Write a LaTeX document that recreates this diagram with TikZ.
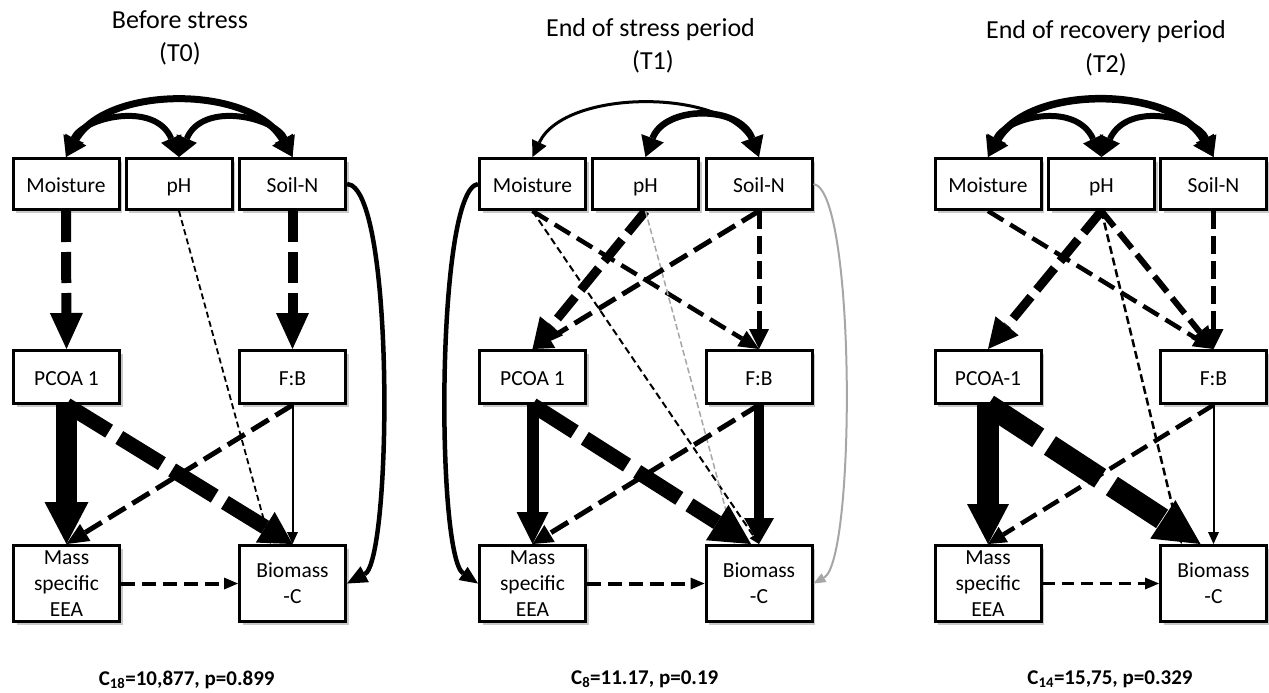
\documentclass[tikz,border=0pt]{standalone}
\usepackage{fontspec}
\setmainfont{Carlito}
\usetikzlibrary{arrows.meta,shadows,calc}
\begin{document}
\begin{tikzpicture}[x=1pt,y=-1pt,
 bbox/.style={draw, line width=3pt, fill=white, minimum width=106pt, inner sep=0pt, align=center, font=\fontsize{21.5}{26}\selectfont, drop shadow={shadow xshift=3pt, shadow yshift=-3.5pt, opacity=0.3, fill=black!70}},
 box/.style={bbox, minimum height=51pt, text height=17pt, text depth=0.5pt},
 midbox/.style={box, minimum height=53pt},
 lowbox/.style={bbox, minimum height=76pt},
 ttl/.style={anchor=base, inner sep=0pt, font=\fontsize{26}{32}\selectfont},
 stat/.style={anchor=base, inner sep=0pt, font=\fontsize{21}{25}\selectfont\bfseries},
 arr/.style 2 args={>={Triangle[length=#1pt,width=#2pt,line width=0pt]}, ->},
 barr/.style 2 args={>={Triangle[length=#1pt,width=#2pt,line width=0pt]}, <->},
 dsh/.style 2 args={dash pattern=on #1pt off #2pt},
 faint/.style={draw=black!35},
]
\useasboundingbox (0,0) rectangle (1269,693);

% titles
\node[ttl] (t1a) at (180,28.3) {Before stress};
\node[ttl] (t1b) at (180,61.7) {(T0)};
\node[ttl] (t2a) at (650.5,36.7) {End of stress period};
\node[ttl] (t2b) at (653,70) {(T1)};
\node[ttl] (t3a) at (1106,39) {End of recovery period};
\node[ttl] (t3b) at (1106,73) {(T2)};

% stats
\node[stat] (s1) at (186.7,685) {C\textsubscript{18}=10,877, p=0.899};
\node[stat] (s2) at (644.7,684) {C\textsubscript{8}=11.17, p=0.19};
\node[stat] (s3) at (1110,684) {C\textsubscript{14}=15,75, p=0.329};

% ---------------- panel 1 boxes
\node[box] (p1m) at (66,184) {Moisture};
\node[box] (p1p) at (179,184) {pH};
\node[box] (p1n) at (292.5,184) {Soil-N};
\node[midbox] (p1a) at (66.5,377) {PCOA 1};
\node[midbox] (p1f) at (292.5,377) {F:B};
\node[lowbox] (p1e) at (66.5,583.5) {Mass\\specific\\EEA};
\node[lowbox] (p1b) at (292.5,583.5) {Biomass\\-C};

% ---------------- panel 2 boxes
\node[box] (p2m) at (532.5,184) {Moisture};
\node[box] (p2p) at (645.5,184) {pH};
\node[box] (p2n) at (759,184) {Soil-N};
\node[midbox] (p2a) at (532.5,377) {PCOA 1};
\node[midbox] (p2f) at (759,377) {F:B};
\node[lowbox] (p2e) at (532.5,583.5) {Mass\\specific\\EEA};
\node[lowbox] (p2b) at (759,583.5) {Biomass\\-C};

% ---------------- panel 3 boxes
\node[box] (p3m) at (988,184) {Moisture};
\node[box] (p3p) at (1101.5,184) {pH};
\node[box] (p3n) at (1213.5,184) {Soil-N};
\node[midbox] (p3a) at (988,377) {PCOA-1};
\node[midbox] (p3f) at (1213.5,377) {F:B};
\node[lowbox] (p3e) at (988,583.5) {Mass\\specific\\EEA};
\node[lowbox] (p3b) at (1213.5,583.5) {Biomass\\-C};

% ================= panel 1 connectors
\draw[line width=7pt, barr={20}{24}] (p1m.north) .. controls (107,85) and (251,85) .. (p1n.north);
\draw[line width=6pt, barr={20}{22}] (p1m.north) .. controls (82,118) and (155,100) .. (p1p.north);
\draw[line width=6pt, barr={20}{22}] (p1p.north) .. controls (203,100) and (276,118) .. (p1n.north);
\draw[line width=10pt, dsh={31}{10}, arr={36}{33}] (p1m.south) -- (p1a.north);
\draw[line width=10pt, dsh={31}{10}, arr={36}{33}] (p1n.south) -- (p1f.north);
\draw[line width=1.8pt, dsh={6}{3.5}, arr={10}{9}] (p1p.south) -- ($(p1b.north)+(-22,0)$);
\draw[line width=4.5pt, arr={20}{18}] (p1n.east) .. controls (395,186) and (392,560) .. (p1b.east);
\draw[line width=21pt, arr={42}{44}] (p1a.south) -- (p1e.north);
\draw[line width=15pt, dsh={50}{12}, arr={32}{36}] (p1a.south) -- (p1b.north);
\draw[line width=5pt, dsh={20}{8}, arr={22}{20}] (p1f.south) -- (p1e.north);
\draw[line width=2pt, arr={12}{11}] (p1f.south) -- (p1b.north);
\draw[line width=4pt, dsh={14}{7}, arr={14}{12}] (p1e.east) -- (p1b.west);

% ================= panel 2 connectors
\draw[line width=3pt, barr={16}{16}] (p2m.north) .. controls (565,88) and (727,88) .. (p2n.north);
\draw[line width=6.5pt, barr={20}{24}] (p2p.north) .. controls (665,105) and (740,105) .. (p2n.north);
\draw[line width=4.5pt, arr={18}{16}] (p2m.west) .. controls (436,190) and (436,555) .. (p2e.west);
\draw[faint, line width=2pt, arr={12}{10}] (p2n.east) .. controls (856,190) and (856,560) .. (p2b.east);
\draw[line width=4.5pt, dsh={18}{8}, arr={20}{18}] (p2m.south) -- (p2f.north);
\draw[line width=2pt, dsh={7}{4}, arr={10}{9}] (p2m.south) -- (p2b.north);
\draw[line width=9pt, dsh={28}{9}, arr={30}{30}] (p2p.south) -- (p2a.north);
\draw[faint, line width=1.5pt, dsh={6}{3}, arr={8}{7}] (p2p.south) -- ($(p2b.north)+(-24,0)$);
\draw[line width=5pt, dsh={20}{8}, arr={20}{22}] (p2n.south) -- (p2a.north);
\draw[line width=5pt, dsh={18}{7}, arr={20}{20}] (p2n.south) -- (p2f.north);
\draw[line width=12pt, arr={32}{32}] (p2a.south) -- (p2e.north);
\draw[line width=15pt, dsh={50}{12}, arr={40}{42}] (p2a.south) -- ($(p2b.north)+(-8,0)$);
\draw[line width=5pt, dsh={20}{8}, arr={20}{20}] (p2f.south) -- (p2e.north);
\draw[line width=10pt, arr={26}{30}] (p2f.south) -- (p2b.north);
\draw[line width=4pt, dsh={14}{7}, arr={14}{12}] (p2e.east) -- (p2b.west);

% ================= panel 3 connectors
\draw[line width=7.5pt, barr={20}{24}] (p3m.north) .. controls (1029,85) and (1172,85) .. (p3n.north);
\draw[line width=6pt, barr={20}{22}] (p3m.north) .. controls (1005,118) and (1075,100) .. (p3p.north);
\draw[line width=6pt, barr={20}{22}] (p3p.north) .. controls (1128,100) and (1198,118) .. (p3n.north);
\draw[line width=4.5pt, dsh={18}{8}, arr={20}{18}] (p3m.south) -- (p3f.north);
\draw[line width=9pt, dsh={28}{9}, arr={30}{30}] (p3p.south) -- (p3a.north);
\draw[line width=6pt, dsh={20}{8}, arr={22}{22}] (p3p.south) -- (p3f.north);
\draw[line width=2.5pt, dsh={8}{4}, arr={10}{9}] (p3p.south) -- ($(p3b.north)+(-32,0)$);
\draw[line width=5pt, dsh={18}{7}, arr={20}{20}] (p3n.south) -- (p3f.north);
\draw[line width=22pt, arr={40}{42}] (p3a.south) -- (p3e.north);
\draw[line width=22pt, dsh={60}{14}, arr={45}{46}] (p3a.south) -- ($(p3b.north)+(-13,0)$);
\draw[line width=4.5pt, dsh={18}{8}, arr={18}{18}] (p3f.south) -- (p3e.north);
\draw[line width=2pt, arr={12}{11}] (p3f.south) -- (p3b.north);
\draw[line width=3.5pt, dsh={12}{7}, arr={14}{12}] (p3e.east) -- (p3b.west);
\end{tikzpicture}
\end{document}
